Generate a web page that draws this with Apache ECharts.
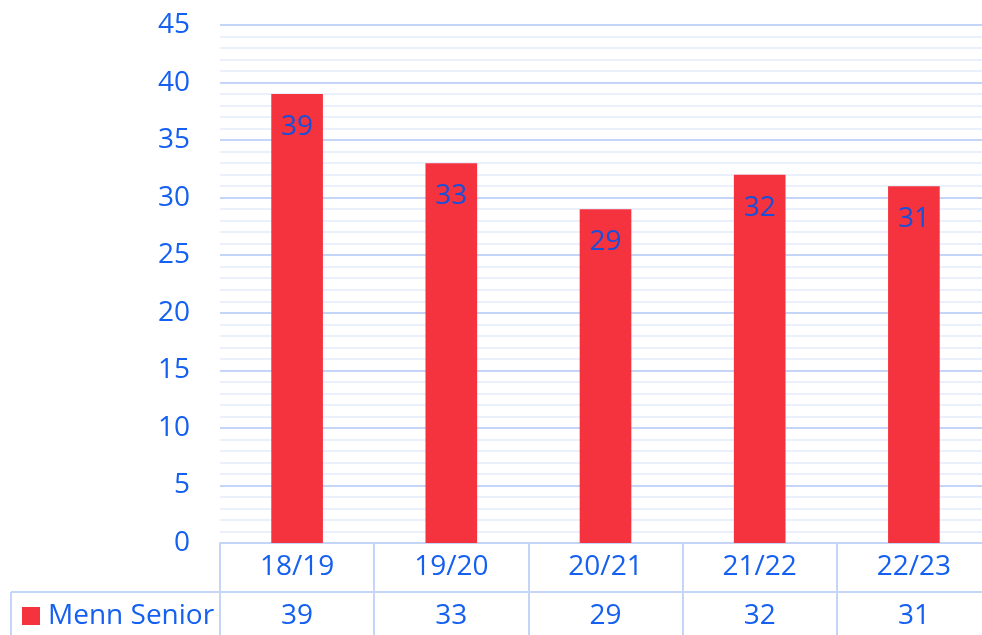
<!DOCTYPE html>
<html>
<head>
  <meta charset="UTF-8">
  <style>
    html, body { margin: 0; padding: 0; background: #fff; }
    #chart { width: 982px; height: 635px; }
  </style>
</head>
<body>
<div id="chart"></div>
<script src="https://cdn.jsdelivr.net/npm/echarts@6/dist/echarts.min.js"></script>
<script type="text/javascript">
  var seasons = ['18/19', '19/20', '20/21', '21/22', '22/23'];
  var mennSenior = [39, 33, 29, 32, 31];
  var seriesName = 'Menn Senior';

  var blue = '#1560f0';
  var gridBlue = '#c4d5f7';
  var font = '"Open Sans", sans-serif';

  var myChart = echarts.init(document.getElementById('chart'));
  var option = {
    animation: false,
    textStyle: {fontFamily: font},
    legend: {
      left: 22,
      top: 602,
      padding: 0,
      icon: 'rect',
      itemWidth: 18,
      itemHeight: 18,
      selectedMode: false,
      textStyle: {color: blue, fontSize: 28, fontFamily: font, padding: [0, 0, 0, 3]},
      data: [seriesName]
    },
    // plot runs past the right edge of the window, as in the original
    grid: {left: 220, width: 771, top: 25, bottom: 92, outerBoundsMode: 'none'},
    xAxis: [{
      type: 'category',
      data: seasons,
      axisLine: {lineStyle: {color: gridBlue, width: 2}},
      axisTick: {show: true, length: 92, interval: 0, lineStyle: {color: gridBlue, width: 2}},
      axisLabel: {color: blue, fontSize: 28, lineHeight: 28, margin: 10, fontFamily: font}
    }, {
      type: 'category',
      data: seasons,
      position: 'bottom',
      offset: 49,
      axisLine: {show: false},
      axisTick: {show: false},
      axisLabel: {
        color: blue, fontSize: 28, lineHeight: 28, margin: 10, fontFamily: font,
        formatter: function (v, i) { return String(mennSenior[i]); }
      }
    }],
    yAxis: {
      type: 'value',
      min: 0,
      max: 45,
      interval: 5,
      axisLine: {show: false},
      axisTick: {show: false},
      axisLabel: {color: blue, fontSize: 28, margin: 30, fontFamily: font},
      splitLine: {lineStyle: {color: gridBlue, width: 2}},
      minorTick: {show: false, splitNumber: 5},
      minorSplitLine: {show: true, lineStyle: {color: '#e4ecfc', width: 1.5}}
    },
    graphic: [
      {type: 'line', shape: {x1: 11, y1: 592, x2: 982, y2: 592}, style: {stroke: gridBlue, lineWidth: 2}},
      {type: 'line', shape: {x1: 11, y1: 592, x2: 11, y2: 635}, style: {stroke: gridBlue, lineWidth: 2}}
    ],
    series: [{
      name: seriesName,
      type: 'bar',
      data: mennSenior,
      barWidth: '33.5%',
      itemStyle: {color: '#f5333f'},
      label: {
        show: true,
        position: 'insideTop',
        distance: 19,
        color: '#1a4fd8',
        fontSize: 28,
        fontFamily: font
      }
    }]
  };
  myChart.setOption(option);
</script>
</body>
</html>
